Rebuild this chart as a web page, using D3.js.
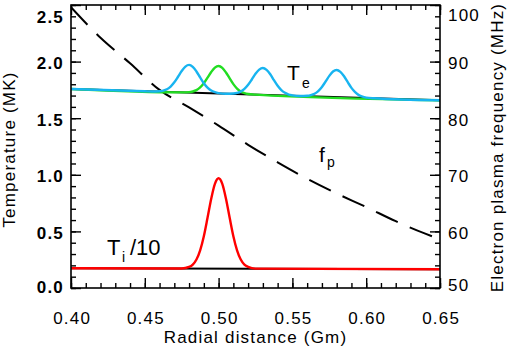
<!DOCTYPE html>
<html><head><meta charset="utf-8">
<script src="https://cdn.jsdelivr.net/npm/d3@7/dist/d3.min.js"></script>
<style>
body{margin:0;background:#fff}
text{font-family:"Liberation Sans",Arial,Helvetica,sans-serif;fill:#000}
</style>
</head><body>
<svg id="c" width="509" height="357"></svg>
<script>
// ---- tick labels ----
const xTickVals = [0.40, 0.45, 0.50, 0.55, 0.60, 0.65];
const tTickVals = [0.0, 0.5, 1.0, 1.5, 2.0, 2.5];
const fTickVals = [50, 60, 70, 80, 90, 100];

// ---- electron temperature (MK), unperturbed baseline ----
const teBaseX = [0.40, 0.65];
const teBaseY = [1.758, 1.658];

// ---- ion temperature /10 (MK), unperturbed baseline ----
const tiBaseX = [0.40, 0.65];
const tiBaseY = [0.175, 0.165];

// ---- Te with one bump at 0.50 (green) ----
const teGreenX = [0.40,0.475,0.48,0.4825,0.485,0.4875,0.49,0.4925,0.495,0.4975,0.50,0.5025,0.505,0.5075,0.51,0.5125,0.515,0.5175,0.52,0.525,0.65];
const teGreenY = [1.758,1.728,1.730,1.736,1.748,1.772,1.809,1.858,1.908,1.947,1.961,1.945,1.904,1.852,1.801,1.762,1.736,1.722,1.714,1.708,1.658];

// ---- Te with bumps at 0.48, 0.53, 0.58 (cyan) ----
const teCyanX = [0.40,0.45,0.455,0.46,0.4625,0.465,0.4675,0.47,0.4725,0.475,0.4775,0.48,0.4825,0.485,0.4875,0.49,0.4925,0.495,0.4975,0.50,0.505,
  0.51,0.5125,0.515,0.5175,0.52,0.5225,0.525,0.5275,0.53,0.5325,0.535,0.5375,0.54,0.5425,0.545,0.5475,0.55,0.555,
  0.56,0.5625,0.565,0.5675,0.57,0.5725,0.575,0.5775,0.58,0.5825,0.585,0.5875,0.59,0.5925,0.595,0.5975,0.60,0.605,0.65];
const teCyanY = [1.758,1.738,1.736,1.738,1.744,1.756,1.780,1.817,1.866,1.917,1.956,1.971,1.954,1.913,1.860,1.809,1.770,1.744,1.730,1.722,1.716,
  1.718,1.723,1.736,1.759,1.795,1.842,1.892,1.929,1.943,1.927,1.888,1.836,1.787,1.749,1.724,1.709,1.702,1.696,
  1.698,1.704,1.716,1.740,1.776,1.824,1.874,1.912,1.926,1.910,1.870,1.818,1.768,1.730,1.704,1.690,1.682,1.676,1.658];

// ---- Ti/10 with bump at 0.50 (red) ----
const tiRedX = [0.40,0.475,0.48,0.4825,0.485,0.4875,0.49,0.4925,0.495,0.4975,0.50,0.5025,0.505,0.5075,0.51,0.5125,0.515,0.5175,0.52,0.525,0.65];
const tiRedY = [0.175,0.172,0.186,0.207,0.252,0.333,0.458,0.620,0.789,0.920,0.969,0.920,0.789,0.620,0.458,0.333,0.252,0.207,0.186,0.171,0.165];

// ---- electron plasma frequency (MHz), dashed ----
const fpX = [0.40,0.42,0.44,0.46,0.48,0.50,0.52,0.54,0.56,0.58,0.60,0.62,0.64,0.65];
const fpY = [99.6,94.2,89.7,85.0,81.9,78.7,75.3,72.2,69.3,66.7,64.3,61.8,59.6,58.6];

const svg = d3.select("#c");
const L = 71, R = 440, T = 5, B = 288;
const x = d3.scaleLinear().domain([0.40, 0.65]).range([L, R]);
const yT = d3.scaleLinear().domain([0, 2.5]).range([B, T]);
const yF = d3.scaleLinear().domain([50, 100]).range([B, T]);

svg.append("defs").append("clipPath").attr("id","clip")
  .append("rect").attr("x",L).attr("y",T).attr("width",R-L).attr("height",B-T);

const plot = svg.append("g").attr("clip-path","url(#clip)");
const zip = (xs, ys) => xs.map((v,i)=>[v, ys[i]]);
const lineT = d3.line().x(d=>x(d[0])).y(d=>yT(d[1])).curve(d3.curveMonotoneX);
const lineF = d3.line().x(d=>x(d[0])).y(d=>yF(d[1])).curve(d3.curveMonotoneX);

plot.append("path").attr("d", lineF(zip(fpX, fpY)))
  .attr("fill","none").attr("stroke","#000").attr("stroke-width",2).attr("stroke-dasharray","24,13");
plot.append("path").attr("d", lineT(zip(teBaseX, teBaseY)))
  .attr("fill","none").attr("stroke","#000").attr("stroke-width",2);
plot.append("path").attr("d", lineT(zip(tiBaseX, tiBaseY)))
  .attr("fill","none").attr("stroke","#000").attr("stroke-width",2);
plot.append("path").attr("d", lineT(zip(teGreenX, teGreenY)))
  .attr("fill","none").attr("stroke","#22dd22").attr("stroke-width",2.4);
plot.append("path").attr("d", lineT(zip(teCyanX, teCyanY)))
  .attr("fill","none").attr("stroke","#18b4f0").attr("stroke-width",2.4);
plot.append("path").attr("d", lineT(zip(tiRedX, tiRedY)))
  .attr("fill","none").attr("stroke","#ff0000").attr("stroke-width",2.4);

// ---- axes ----
const fs = "17px", ls = "1.2px";
function style(g){
  g.select(".domain").remove();
  g.selectAll(".tick line").attr("stroke","#000").attr("stroke-width",1.4);
  g.selectAll("text").attr("font-size",fs).attr("letter-spacing",ls).attr("font-family",null).attr("fill","#000");
}
// minor ticks
svg.append("g").attr("transform",`translate(0,${B})`)
  .call(d3.axisBottom(x).tickValues(d3.range(0,26).map(i=>0.40+i*0.01)).tickSize(-5).tickFormat(""))
  .call(style);
svg.append("g").attr("transform",`translate(0,${T})`)
  .call(d3.axisTop(x).tickValues(d3.range(0,26).map(i=>0.40+i*0.01)).tickSize(-5).tickFormat(""))
  .call(style);
svg.append("g").attr("transform",`translate(${L},0)`)
  .call(d3.axisLeft(yT).tickValues(d3.range(0,26).map(i=>i*0.1)).tickSize(-5).tickFormat(""))
  .call(style);
svg.append("g").attr("transform",`translate(${R},0)`)
  .call(d3.axisRight(yF).tickValues(d3.range(0,26).map(i=>50+i*2)).tickSize(-5).tickFormat(""))
  .call(style);
// major ticks
const gB = svg.append("g").attr("transform",`translate(0,${B})`)
  .call(d3.axisBottom(x).tickValues(xTickVals).tickSize(-10).tickFormat(d3.format(".2f")))
  .call(style);
gB.selectAll("text").attr("y",36).attr("dy",null).attr("dx","0.6px");
svg.append("g").attr("transform",`translate(0,${T})`)
  .call(d3.axisTop(x).tickValues(xTickVals).tickSize(-10).tickFormat(""))
  .call(style);
const gL = svg.append("g").attr("transform",`translate(${L},0)`)
  .call(d3.axisLeft(yT).tickValues(tTickVals).tickSize(-10).tickFormat(d3.format(".1f")))
  .call(style);
gL.selectAll("text").attr("x",-7).attr("dy",null).attr("y",d=>{
  const c = yT(d); const cc = Math.min(Math.max(c+1, 16), 286); return cc - c + 6;
}).attr("font-weight","bold");
const gR = svg.append("g").attr("transform",`translate(${R},0)`)
  .call(d3.axisRight(yF).tickValues(fTickVals).tickSize(-10).tickFormat(d3.format("d")))
  .call(style);
gR.selectAll("text").attr("x",8).attr("dy",null).attr("y",d=>{
  const c = yF(d); const cc = Math.min(Math.max(c+1, 14), 284); return cc - c + 6;
});

// frame
svg.append("rect").attr("x",L).attr("y",T).attr("width",R-L).attr("height",B-T)
  .attr("fill","none").attr("stroke","#000").attr("stroke-width",1.6);

// axis titles
svg.append("text").attr("x",(L+R)/2).attr("y",343).attr("text-anchor","middle")
  .attr("font-size",fs).attr("letter-spacing",ls).text("Radial distance (Gm)");
svg.append("text").attr("transform",`translate(15,${(T+B)/2+3}) rotate(-90)`).attr("text-anchor","middle")
  .attr("font-size",fs).attr("letter-spacing",ls).text("Temperature (MK)");
svg.append("text").attr("transform",`translate(503,${(T+B)/2+1}) rotate(-90)`).attr("text-anchor","middle")
  .attr("font-size",fs).attr("letter-spacing",ls).text("Electron plasma frequency (MHz)");

// annotations
function ann(txt, xx, yy, size){
  svg.append("text").attr("x",xx).attr("y",yy).attr("font-size",size).text(txt);
}
ann("T", 287, 80, "21px"); ann("e", 302, 88, "14px");
ann("T", 107, 255, "22px"); ann("i", 122, 262, "14px"); ann("/10", 130, 255, "22px");
ann("f", 319, 162, "21px"); ann("p", 327, 167, "14px");
</script>
</body></html>
